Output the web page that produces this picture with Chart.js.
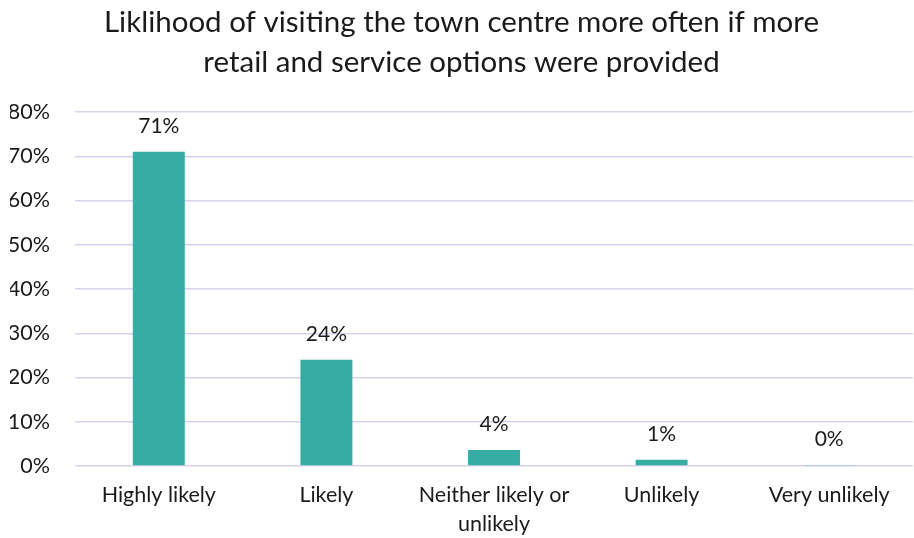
<!DOCTYPE html>
<html>
<head>
<meta charset="utf-8">
<script src="https://cdn.jsdelivr.net/npm/chart.js@4"></script>
<style>
html,body{margin:0;padding:0;background:#fff;}
#wrap{width:914px;height:538px;}
</style>
</head>
<body>
<div id="wrap"><canvas id="c" width="914" height="538"></canvas></div>
<script>
const categories = ["Highly likely", "Likely", ["Neither likely or", "unlikely"], "Unlikely", "Very unlikely"];
const values = [71, 24, 3.6, 1.4, 0.2];
const yTicks = [0, 10, 20, 30, 40, 50, 60, 70, 80];
const titleLines = ["Liklihood of visiting the town centre more often if more", "retail and service options were provided"];

const FONT = "Lato, 'Open Sans', sans-serif";

const valueLabels = {
  id: 'valueLabels',
  afterDatasetsDraw(chart) {
    const ctx = chart.ctx;
    const meta = chart.getDatasetMeta(0);
    ctx.save();
    ctx.font = "21px " + FONT;
    ctx.fillStyle = "#1a1a1a";
    ctx.textAlign = "center";
    ctx.textBaseline = "middle";
    meta.data.forEach((bar, i) => {
      ctx.fillText(Math.round(values[i]) + "%", bar.x, bar.y - 26);
    });
    ctx.restore();
  }
};

new Chart(document.getElementById('c'), {
  type: 'bar',
  data: {
    labels: categories,
    datasets: [{
      data: values,
      backgroundColor: '#36ADA4',
      borderWidth: 0,
      categoryPercentage: 1,
      barPercentage: 0.31
    }]
  },
  options: {
    responsive: false,
    animation: false,
    devicePixelRatio: 1,
    layout: { padding: { left: 10, right: 1, top: 0, bottom: 0 } },
    plugins: {
      legend: { display: false },
      tooltip: { enabled: false },
      title: {
        display: true,
        text: titleLines,
        color: '#1a1a1a',
        font: { family: FONT, size: 29.5, weight: 'normal', lineHeight: 1.356 },
        padding: { top: 2, bottom: 30 }
      }
    },
    scales: {
      x: {
        afterFit(axis) { axis.height = 72; },
        grid: { display: false, drawTicks: false },
        border: { display: false },
        ticks: {
          color: '#1a1a1a',
          font: { family: FONT, size: 21.5, lineHeight: 1.35 },
          padding: 15,
          maxRotation: 0,
          autoSkip: false
        }
      },
      y: {
        min: 0,
        max: 80,
        afterBuildTicks(axis) { axis.ticks = yTicks.map(v => ({ value: v })); },
        afterFit(axis) { axis.width = 65; },
        grid: { color: '#D9D3EF', lineWidth: 1.5, drawTicks: false },
        border: { display: false },
        ticks: {
          color: '#1a1a1a',
          font: { family: FONT, size: 21.5 },
          padding: 25,
          callback: v => v + '%'
        }
      }
    }
  },
  plugins: [valueLabels]
});
</script>
</body>
</html>
